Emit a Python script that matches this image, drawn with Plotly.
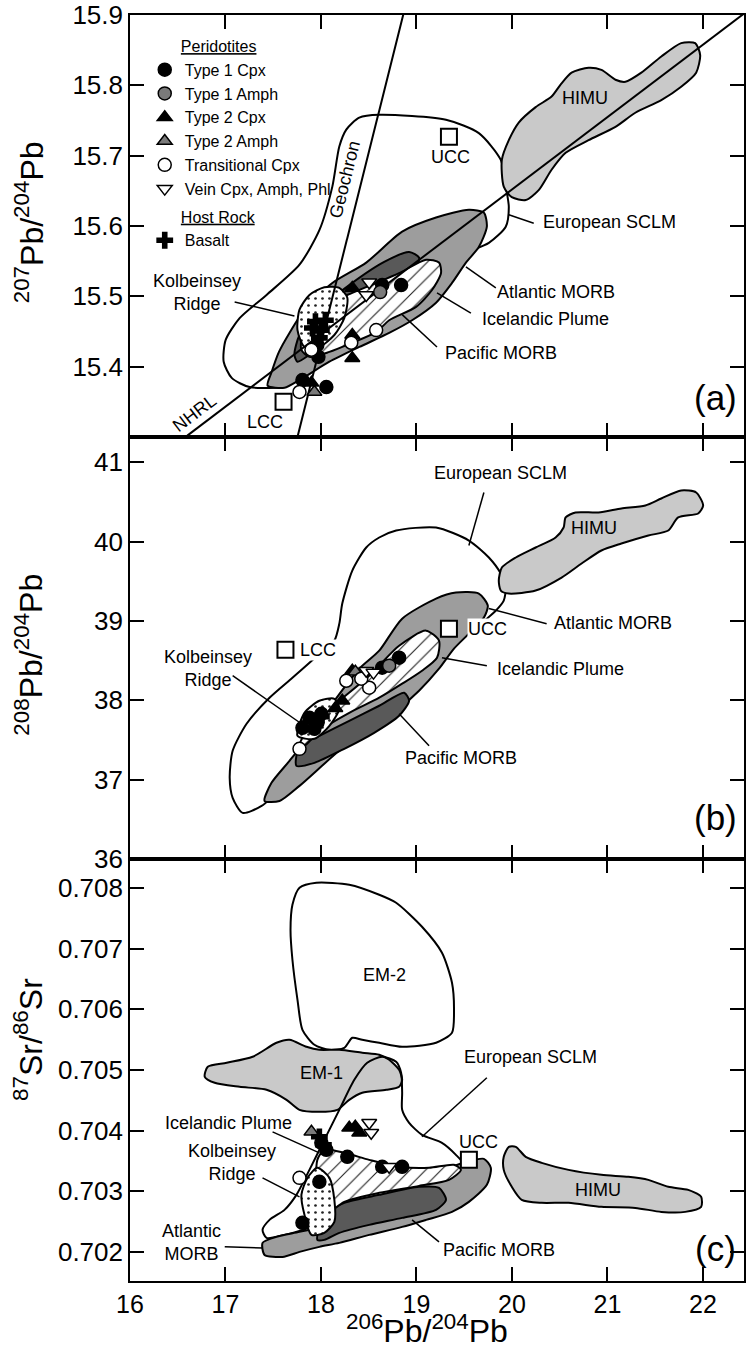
import plotly.graph_objects as go
from plotly.subplots import make_subplots

FONT = "Liberation Sans, Arial, Helvetica, sans-serif"

# ---------------- axes ----------------
X_RANGE = [16, 22.43]
X_TICKS = [16, 17, 18, 19, 20, 21, 22]
Y_RANGE_A = [15.3, 15.9]
Y_TICKS_A = [15.4, 15.5, 15.6, 15.7, 15.8, 15.9]
Y_RANGE_B = [36.0, 41.32]
Y_TICKS_B = [36, 37, 38, 39, 40, 41]
Y_RANGE_C = [0.70152, 0.70848]
Y_TICKS_C = [0.702, 0.703, 0.704, 0.705, 0.706, 0.707, 0.708]

# ---------------- panel (a) 207Pb/204Pb fields ----------------
SCLM_A_X = [17.253, 17.065, 16.981, 17.002, 17.148, 17.430, 17.775, 17.983, 18.119, 18.192, 18.265, 18.401,
            18.610, 19.309, 19.653, 19.883, 19.935, 19.967, 19.935, 19.758, 19.518, 19.132, 18.610, 18.088, 17.670]
SCLM_A_Y = [15.371, 15.384, 15.407, 15.438, 15.469, 15.502, 15.545, 15.594, 15.656, 15.713, 15.737, 15.754,
            15.758, 15.751, 15.732, 15.694, 15.656, 15.627, 15.599, 15.576, 15.562, 15.535, 15.488, 15.424, 15.374]
HIMU_A_X = [19.894, 19.967, 20.071, 20.248, 20.415, 20.509, 20.624, 20.802, 20.937, 21.084, 21.188, 21.355, 21.564,
            21.772, 21.919, 21.971, 21.929, 21.772, 21.564, 21.292, 21.084, 20.802, 20.562, 20.415, 20.280, 20.144,
            19.998, 19.914]
HIMU_A_Y = [15.694, 15.722, 15.747, 15.769, 15.784, 15.801, 15.818, 15.825, 15.822, 15.808, 15.805, 15.818, 15.841,
            15.860, 15.860, 15.843, 15.818, 15.798, 15.779, 15.761, 15.741, 15.722, 15.704, 15.680, 15.651, 15.637,
            15.641, 15.656]
ATL_A_X = [17.441, 17.482, 17.560, 17.670, 17.848, 18.119, 18.474, 18.850, 19.205, 19.549, 19.706, 19.737, 19.653,
           19.518, 19.372, 19.205, 18.954, 18.714, 18.401, 18.088, 17.775, 17.618]
ATL_A_Y = [15.373, 15.392, 15.421, 15.448, 15.485, 15.519, 15.548, 15.592, 15.612, 15.623, 15.619, 15.599, 15.570,
           15.548, 15.519, 15.491, 15.466, 15.448, 15.428, 15.407, 15.381, 15.370]
PAC_A_X = [17.722, 17.775, 17.983, 18.296, 18.662, 18.923, 19.027, 18.975, 18.766, 18.453, 18.140, 17.879, 17.754]
PAC_A_Y = [15.417, 15.445, 15.481, 15.516, 15.549, 15.563, 15.555, 15.535, 15.509, 15.481, 15.445, 15.417, 15.407]
ICE_A_X = [17.795, 17.806, 17.910, 18.088, 18.328, 18.578, 18.818, 19.100, 19.236, 19.257, 19.163, 18.996, 18.714,
           18.578, 18.328, 18.088, 17.879]
ICE_A_Y = [15.424, 15.448, 15.471, 15.491, 15.505, 15.519, 15.533, 15.552, 15.548, 15.533, 15.509, 15.485, 15.466,
           15.449, 15.434, 15.421, 15.414]
KOL_A_X = [17.754, 17.775, 17.879, 18.035, 18.192, 18.276, 18.244, 18.140, 17.983, 17.827]
KOL_A_Y = [15.452, 15.481, 15.502, 15.513, 15.512, 15.498, 15.469, 15.445, 15.428, 15.428]
NHRL_X = [16.60, 22.43]
NHRL_Y = [15.302, 15.902]
GEOCHRON_X = [17.75, 18.87]
GEOCHRON_Y = [15.298, 15.905]

# ---------------- panel (b) 208Pb/204Pb fields ----------------
SCLM_B_X = [17.180, 17.075, 17.044, 17.075, 17.221, 17.461, 17.701, 17.962, 18.140, 18.192, 18.223, 18.328, 18.474,
            18.610, 18.787, 19.205, 19.549, 19.758, 19.883, 19.935, 19.914, 19.831, 19.737, 19.445, 19.027, 18.610,
            18.088, 17.670, 17.378]
SCLM_B_Y = [36.581, 36.770, 37.023, 37.364, 37.705, 38.033, 38.285, 38.563, 38.753, 38.967, 39.220, 39.636, 39.927,
            40.053, 40.141, 40.179, 40.015, 39.801, 39.598, 39.422, 39.258, 39.131, 39.030, 38.753, 38.374, 37.995,
            37.490, 36.985, 36.669]
HIMU_B_X = [19.862, 19.894, 20.040, 20.248, 20.457, 20.541, 20.562, 20.666, 20.906, 21.146, 21.397, 21.564, 21.772,
            21.929, 22.002, 21.950, 21.741, 21.637, 21.428, 21.146, 20.937, 20.729, 20.520, 20.248, 19.967, 19.883]
HIMU_B_Y = [39.510, 39.674, 39.801, 39.927, 40.053, 40.179, 40.306, 40.369, 40.369, 40.419, 40.457, 40.545, 40.646,
            40.621, 40.457, 40.356, 40.306, 40.141, 40.078, 39.977, 39.889, 39.725, 39.548, 39.384, 39.346, 39.384]
ATL_B_X = [17.409, 17.482, 17.670, 17.879, 18.140, 18.401, 18.610, 18.850, 19.205, 19.413, 19.653, 19.747, 19.706,
           19.549, 19.393, 19.236, 19.027, 18.766, 18.505, 18.192, 17.775, 17.566]
ATL_B_Y = [36.732, 36.960, 37.237, 37.553, 37.995, 38.399, 38.626, 39.030, 39.283, 39.359, 39.346, 39.194, 39.043,
           38.841, 38.652, 38.399, 38.121, 37.843, 37.616, 37.364, 36.922, 36.732]
PAC_B_X = [17.743, 17.775, 17.983, 18.296, 18.610, 18.871, 18.923, 18.818, 18.557, 18.244, 17.931]
PAC_B_Y = [37.174, 37.427, 37.553, 37.742, 37.932, 38.096, 37.995, 37.806, 37.591, 37.389, 37.212]
ICE_B_X = [17.775, 17.879, 18.192, 18.505, 18.818, 19.100, 19.236, 19.215, 19.058, 18.850, 18.610, 18.296, 17.983, 17.827]
ICE_B_Y = [37.427, 37.679, 37.995, 38.311, 38.689, 38.879, 38.753, 38.538, 38.374, 38.210, 38.033, 37.843, 37.616, 37.427]
KOL_B_X = [17.754, 17.827, 17.983, 18.140, 18.192, 18.088, 17.931]
KOL_B_Y = [37.553, 37.843, 37.995, 38.020, 37.894, 37.679, 37.515]

# ---------------- panel (c) 87Sr/86Sr fields ----------------
EM2_C_X = [17.701, 17.775, 17.952, 18.296, 18.610, 18.787, 19.058, 19.267, 19.372, 19.393, 19.372, 19.205, 18.850,
           18.610, 18.432, 18.328, 18.244, 18.088, 17.931, 17.806, 17.754, 17.701, 17.681]
EM2_C_Y = [0.707726, 0.708007, 0.708089, 0.708056, 0.707891, 0.707759, 0.707363, 0.706934, 0.706439, 0.705993,
           0.705614, 0.705449, 0.705383, 0.705449, 0.705498, 0.705531, 0.705366, 0.705333, 0.705416, 0.705663,
           0.706158, 0.706818, 0.707314]
EM1_C_X = [16.783, 16.814, 17.013, 17.284, 17.534, 17.670, 17.848, 17.983, 18.192, 18.432, 18.610, 18.714, 18.818,
           18.850, 18.818, 18.683, 18.432, 18.296, 18.171, 17.983, 17.775, 17.639, 17.430, 17.148, 16.887]
EM1_C_Y = [0.704888, 0.705053, 0.705119, 0.705218, 0.705449, 0.705498, 0.705383, 0.705333, 0.705333, 0.705284,
           0.705251, 0.705168, 0.705003, 0.704838, 0.704723, 0.704673, 0.704624, 0.704508, 0.704343, 0.704310,
           0.704343, 0.704508, 0.704673, 0.704723, 0.704789]
SCLM_C_X = [18.641, 18.787, 18.839, 18.850, 18.850, 18.923, 19.058, 19.267, 19.413, 19.497, 19.445, 19.236, 18.818,
            18.296, 17.879, 17.618, 17.430, 17.388, 17.461, 17.618, 17.743, 17.879, 18.035, 18.192, 18.349, 18.484]
SCLM_C_Y = [0.705218, 0.705135, 0.704954, 0.704624, 0.704343, 0.704129, 0.703931, 0.703799, 0.703601, 0.703436,
            0.703271, 0.703106, 0.702858, 0.702611, 0.702396, 0.702281, 0.702231, 0.702363, 0.702528, 0.702693,
            0.702941, 0.703353, 0.703848, 0.704343, 0.704838, 0.705119]
ATL_C_X = [17.409, 17.388, 17.534, 17.775, 18.088, 18.505, 18.923, 19.236, 19.497, 19.706, 19.779, 19.737, 19.549,
           19.372, 19.100, 18.850, 18.505, 18.192, 17.983, 17.775, 17.597]
ATL_C_Y = [0.701950, 0.702149, 0.702248, 0.702330, 0.702446, 0.702776, 0.703106, 0.703320, 0.703469, 0.703535,
           0.703386, 0.703106, 0.702825, 0.702660, 0.702528, 0.702413, 0.702281, 0.702149, 0.702083, 0.702000, 0.701917]
PAC_C_X = [17.962, 18.035, 18.244, 18.610, 19.027, 19.236, 19.309, 19.205, 18.850, 18.505, 18.192, 18.035]
PAC_C_Y = [0.702198, 0.702611, 0.702809, 0.702941, 0.703073, 0.703056, 0.702858, 0.702693, 0.702561, 0.702446,
           0.702314, 0.702198]
ICE_C_X = [17.962, 18.035, 18.244, 18.505, 18.818, 19.132, 19.392, 19.466, 19.340, 19.027, 18.610, 18.244, 18.035, 17.962]
ICE_C_Y = [0.703518, 0.703683, 0.703634, 0.703518, 0.703403, 0.703386, 0.703436, 0.703353, 0.703188, 0.703089,
           0.702974, 0.702825, 0.702611, 0.702858]
KOL_C_X = [17.962, 18.088, 18.140, 18.140, 18.035, 17.900, 17.827, 17.795, 17.858]
KOL_C_Y = [0.703386, 0.703221, 0.702858, 0.702495, 0.702314, 0.702281, 0.702611, 0.702941, 0.703221]
HIMU_C_X = [19.914, 19.967, 20.040, 20.144, 20.311, 20.593, 20.937, 21.219, 21.428, 21.637, 21.846, 21.981, 21.981,
            21.814, 21.564, 21.292, 20.937, 20.593, 20.311, 20.102, 19.998, 19.914]
HIMU_C_Y = [0.703568, 0.703733, 0.703733, 0.703568, 0.703469, 0.703353, 0.703271, 0.703238, 0.703188, 0.703073,
            0.703023, 0.702908, 0.702743, 0.702660, 0.702660, 0.702726, 0.702743, 0.702809, 0.702809, 0.702858,
            0.703073, 0.703353]

# ---------------- samples ----------------
T1CPX_A_X = [17.973, 17.806, 18.056, 18.641, 18.839, 17.962]
T1CPX_A_Y = [15.414, 15.381, 15.371, 15.516, 15.516, 15.431]
T1AMPH_A_X = [18.620]
T1AMPH_A_Y = [15.506]
T2CPX_A_X = [18.328, 18.328, 18.328, 17.900]
T2CPX_A_Y = [15.412, 15.445, 15.512, 15.377]
T2AMPH_A_X = [17.931]
T2AMPH_A_Y = [15.364]
TRANS_A_X = [17.775, 18.317, 18.578, 17.900]
TRANS_A_Y = [15.364, 15.434, 15.452, 15.424]
VEIN_A_X = [18.505, 18.474]
VEIN_A_Y = [15.520, 15.502]
BAS_A_X = [17.942, 18.004, 18.046, 17.983, 17.910]
BAS_A_Y = [15.464, 15.452, 15.466, 15.441, 15.455]

T1CPX_B_X = [18.818, 18.641, 17.806, 17.879, 18.004, 17.931, 17.962]
T1CPX_B_Y = [38.538, 38.412, 37.654, 37.780, 37.831, 37.641, 37.717]
T1AMPH_B_X = [18.714]
T1AMPH_B_Y = [38.437]
T2CPX_B_X = [18.328, 18.223, 18.150]
T2CPX_B_Y = [38.374, 37.995, 37.900]
T2AMPH_B_X = [18.360]
T2AMPH_B_Y = [38.360]
TRANS_B_X = [17.775, 18.265, 18.505, 18.422]
TRANS_B_Y = [37.389, 38.247, 38.159, 38.273]
VEIN_B_X = [18.474, 18.550]
VEIN_B_Y = [38.374, 38.350]
BAS_B_X = [17.952, 18.004]
BAS_B_Y = [37.742, 37.793]

T1CPX_C_X = [18.276, 18.641, 18.850, 17.983, 17.806, 18.056, 18.004]
T1CPX_C_Y = [0.703568, 0.703403, 0.703403, 0.703155, 0.702479, 0.703683, 0.703799]
T1AMPH_C_X = []
T1AMPH_C_Y = []
T2CPX_C_X = [18.296, 18.359, 18.401]
T2CPX_C_Y = [0.704046, 0.704063, 0.703964]
T2AMPH_C_X = [17.900]
T2AMPH_C_Y = [0.703980]
TRANS_C_X = [17.775]
TRANS_C_Y = [0.703221]
VEIN_C_X = [18.505, 18.526, 18.714]
VEIN_C_Y = [0.704129, 0.703964, 0.703403]
BAS_C_X = [17.983, 18.025]
BAS_C_Y = [0.703898, 0.703766]

# crust reference boxes: (name, x, y)
CRUST_A = [("LCC", 17.608, 15.350), ("UCC", 19.340, 15.727)]
CRUST_B = [("LCC", 17.628, 38.639), ("UCC", 19.340, 38.904)]
CRUST_C = [("UCC", 19.549, 0.703518)]

# ---------------- labels & leader lines ----------------
LABELS_A = [("Kolbeinsey<br>Ridge", 16.699, 15.506), ("European SCLM", 21.021, 15.606),
            ("Atlantic MORB", 20.457, 15.506), ("Icelandic Plume", 20.353, 15.468),
            ("Pacific MORB", 19.883, 15.419), ("UCC", 19.361, 15.698), ("LCC", 17.409, 15.321),
            ("HIMU", 20.770, 15.782)]
LEADERS_A = [(17.096, 15.492, 17.722, 15.472), (19.967, 15.616, 20.228, 15.604),
             (19.518, 15.542, 19.831, 15.512), (19.215, 15.505, 19.570, 15.476),
             (18.850, 15.474, 19.215, 15.428)]
ROT_LABELS_A = [("NHRL", 16.678, 15.334, -37), ("Geochron", 18.244, 15.666, -76)]

LABELS_B = [("European SCLM", 19.883, 40.861), ("Kolbeinsey<br>Ridge", 16.814, 38.399),
            ("Atlantic MORB", 21.063, 38.980), ("Icelandic Plume", 20.509, 38.399),
            ("Pacific MORB", 19.466, 37.275), ("HIMU", 20.854, 40.167)]
LEFT_LABELS_B = [("LCC", 17.775, 38.639), ("UCC", 19.528, 38.904)]
LEADERS_B = [(19.706, 40.621, 19.549, 39.952), (17.075, 38.311, 17.795, 37.705),
             (19.758, 39.157, 20.363, 38.967), (19.267, 38.538, 19.737, 38.437),
             (18.818, 37.831, 19.132, 37.427)]

LABELS_C = [("European SCLM", 20.196, 0.705218), ("Icelandic Plume", 17.033, 0.704129),
            ("Kolbeinsey<br>Ridge", 17.065, 0.703469), ("Atlantic<br>MORB", 16.647, 0.702149),
            ("Pacific MORB", 19.862, 0.702033), ("UCC", 19.653, 0.703815), ("HIMU", 20.906, 0.703023),
            ("EM-2", 18.662, 0.706571), ("EM-1", 18.004, 0.704954)]
LEADERS_C = [(19.737, 0.704871, 19.058, 0.703898), (17.493, 0.703980, 17.983, 0.703634),
             (17.388, 0.703221, 17.775, 0.702908), (16.992, 0.702083, 17.388, 0.702066),
             (18.954, 0.702528, 19.236, 0.702165)]

LIGHT = "#c9c9c9"
MEDIUM = "#9d9d9d"
DARK = "#595959"

fig = make_subplots(rows=3, cols=1, shared_xaxes=True, vertical_spacing=0)


def region(row, xs, ys, fill=None, pattern=None):
    xs = list(xs) + [xs[0]]
    ys = list(ys) + [ys[0]]
    kw = dict(x=xs, y=ys, mode="lines", hoverinfo="skip", showlegend=False,
              line=dict(color="black", width=2, shape="spline", smoothing=0.7))
    if fill is None:
        tr = go.Scatter(**kw)
    else:
        tr = go.Scatter(fill="toself", fillcolor=fill, **kw)
        if pattern is not None:
            tr.update(fillpattern=pattern)
    fig.add_trace(tr, row=row, col=1)


HATCH = dict(shape="/", bgcolor="white", fgcolor="#222222", size=11, solidity=0.1, fillmode="replace")
DOTS = dict(shape=".", bgcolor="white", fgcolor="#222222", size=7, solidity=0.12, fillmode="replace")

# panel a
region(1, SCLM_A_X, SCLM_A_Y)
region(1, HIMU_A_X, HIMU_A_Y, LIGHT)
region(1, ATL_A_X, ATL_A_Y, MEDIUM)
region(1, PAC_A_X, PAC_A_Y, DARK)
region(1, ICE_A_X, ICE_A_Y, "white", HATCH)
region(1, KOL_A_X, KOL_A_Y, "white", DOTS)
for lx, ly in [(NHRL_X, NHRL_Y), (GEOCHRON_X, GEOCHRON_Y)]:
    fig.add_trace(go.Scatter(x=lx, y=ly, mode="lines", line=dict(color="black", width=2),
                             hoverinfo="skip", showlegend=False), row=1, col=1)
# panel b
region(2, SCLM_B_X, SCLM_B_Y)
region(2, HIMU_B_X, HIMU_B_Y, LIGHT)
region(2, ATL_B_X, ATL_B_Y, MEDIUM)
region(2, PAC_B_X, PAC_B_Y, DARK)
region(2, ICE_B_X, ICE_B_Y, "white", HATCH)
region(2, KOL_B_X, KOL_B_Y, "white", DOTS)
# panel c
region(3, EM2_C_X, EM2_C_Y)
region(3, EM1_C_X, EM1_C_Y, LIGHT)
region(3, SCLM_C_X, SCLM_C_Y)
region(3, ATL_C_X, ATL_C_Y, MEDIUM)
region(3, PAC_C_X, PAC_C_Y, DARK)
region(3, ICE_C_X, ICE_C_Y, "white", HATCH)
region(3, KOL_C_X, KOL_C_Y, "white", DOTS)
region(3, HIMU_C_X, HIMU_C_Y, LIGHT)

# crust boxes
for row, crust in [(1, CRUST_A), (2, CRUST_B), (3, CRUST_C)]:
    fig.add_trace(go.Scatter(x=[c[1] for c in crust], y=[c[2] for c in crust], mode="markers",
                             marker=dict(symbol="square", size=16, color="white",
                                         line=dict(color="black", width=2)),
                             hoverinfo="skip", showlegend=False), row=row, col=1)

# samples
SERIES = [
    ("Type 1 Cpx", "circle", "black", "peri",
     [(T1CPX_A_X, T1CPX_A_Y), (T1CPX_B_X, T1CPX_B_Y), (T1CPX_C_X, T1CPX_C_Y)]),
    ("Type 1 Amph", "circle", "#7a7a7a", "peri",
     [(T1AMPH_A_X, T1AMPH_A_Y), (T1AMPH_B_X, T1AMPH_B_Y), (T1AMPH_C_X, T1AMPH_C_Y)]),
    ("Type 2 Cpx", "triangle-up", "black", "peri",
     [(T2CPX_A_X, T2CPX_A_Y), (T2CPX_B_X, T2CPX_B_Y), (T2CPX_C_X, T2CPX_C_Y)]),
    ("Type 2 Amph", "triangle-up", "#7a7a7a", "peri",
     [(T2AMPH_A_X, T2AMPH_A_Y), (T2AMPH_B_X, T2AMPH_B_Y), (T2AMPH_C_X, T2AMPH_C_Y)]),
    ("Transitional Cpx", "circle", "white", "peri",
     [(TRANS_A_X, TRANS_A_Y), (TRANS_B_X, TRANS_B_Y), (TRANS_C_X, TRANS_C_Y)]),
    ("Vein Cpx, Amph, Phl", "triangle-down", "white", "peri",
     [(VEIN_A_X, VEIN_A_Y), (VEIN_B_X, VEIN_B_Y), (VEIN_C_X, VEIN_C_Y)]),
    ("Basalt", "cross", "black", "host",
     [(BAS_A_X, BAS_A_Y), (BAS_B_X, BAS_B_Y), (BAS_C_X, BAS_C_Y)]),
]
LEG_FONT = dict(size=16, family=FONT, color="black")
GROUP_TITLES = {"peri": "\u00a0\u00a0\u00a0\u00a0\u00a0\u00a0\u00a0<u>Peridotites</u>",
                "host": "\u00a0\u00a0\u00a0\u00a0\u00a0\u00a0\u00a0<u>Host Rock</u>"}
seen_groups = set()
for name, sym, col, grp, panels in SERIES:
    for i, (xs, ys) in enumerate(panels):
        lw = 0 if sym == "cross" else 1.5
        tr = go.Scatter(x=xs, y=ys, mode="markers", name=name, legendgroup=grp,
                        showlegend=(i == 0), hoverinfo="skip",
                        marker=dict(symbol=sym, size=13 if sym != "cross" else 14, color=col,
                                    line=dict(color="black", width=lw)))
        if i == 0 and grp not in seen_groups:
            tr.update(legendgrouptitle=dict(text=GROUP_TITLES[grp], font=LEG_FONT))
            seen_groups.add(grp)
        fig.add_trace(tr, row=i + 1, col=1)

LABEL_FONT = dict(size=18, family=FONT, color="black")
for row, labels in [(1, LABELS_A), (2, LABELS_B), (3, LABELS_C)]:
    for text, x, y in labels:
        fig.add_annotation(x=x, y=y, text=text, showarrow=False, font=LABEL_FONT,
                           xanchor="center", yanchor="middle", row=row, col=1)
for text, x, y in LEFT_LABELS_B:
    fig.add_annotation(x=x, y=y, text=text, showarrow=False, font=LABEL_FONT, bgcolor="white",
                       xanchor="left", yanchor="middle", borderpad=0, row=2, col=1)
for text, x, y, ang in ROT_LABELS_A:
    fig.add_annotation(x=x, y=y, text=text, showarrow=False, font=LABEL_FONT, textangle=ang,
                       xanchor="center", yanchor="middle", row=1, col=1)
for row, leaders in [(1, LEADERS_A), (2, LEADERS_B), (3, LEADERS_C)]:
    for x0, y0, x1, y1 in leaders:
        fig.add_shape(type="line", x0=x0, y0=y0, x1=x1, y1=y1, line=dict(color="black", width=1.5),
                      row=row, col=1)

# panel letters
for text, py in [("(a)", 0.6975), ("(b)", 0.3665), ("(c)", 0.026)]:
    fig.add_annotation(x=0.954, y=py, xref="paper", yref="paper", text=text, showarrow=False,
                       font=dict(size=35, family=FONT, color="black"), xanchor="center", yanchor="middle")

# axis titles
TITLE_FONT = dict(size=32, family=FONT, color="black")
for text, py in [("<sup>207</sup>Pb/<sup>204</sup>Pb", 0.836), ("<sup>208</sup>Pb/<sup>204</sup>Pb", 0.4945),
                 ("<sup>87</sup>Sr/<sup>86</sup>Sr", 0.191)]:
    fig.add_annotation(x=-0.165, y=py, xref="paper", yref="paper", text=text, showarrow=False,
                       textangle=-90, font=TITLE_FONT, xanchor="center", yanchor="middle")
fig.add_annotation(x=0.484, y=-0.038, xref="paper", yref="paper", text="<sup>206</sup>Pb/<sup>204</sup>Pb",
                   showarrow=False, font=TITLE_FONT, xanchor="center", yanchor="middle")

AX = dict(ticks="inside", ticklen=14, tickwidth=1.5, tickcolor="black", showline=True, linecolor="black",
          linewidth=1.6, mirror="ticks", showgrid=False, zeroline=False,
          tickfont=dict(size=26, family=FONT, color="black"))
for r in (1, 2, 3):
    fig.update_xaxes(row=r, col=1, range=X_RANGE, tickvals=X_TICKS, **AX)
fig.update_xaxes(row=3, col=1, tickfont=dict(size=25, family=FONT, color="black"))
fig.update_yaxes(row=1, col=1, range=Y_RANGE_A, tickvals=Y_TICKS_A, ticktext=[f"{v:.1f}" for v in Y_TICKS_A], **AX)
fig.update_yaxes(row=2, col=1, range=Y_RANGE_B, tickvals=Y_TICKS_B, ticktext=[str(v) for v in Y_TICKS_B], **AX)
fig.update_yaxes(row=3, col=1, range=Y_RANGE_C, tickvals=Y_TICKS_C, ticktext=[f"{v:.3f}" for v in Y_TICKS_C], **AX)

fig.update_layout(
    width=746, height=1351, margin=dict(l=130, r=0, t=15, b=70),
    paper_bgcolor="white", plot_bgcolor="white", font=dict(family=FONT, color="black"),
    legend=dict(x=0.024, y=0.989, xanchor="left", yanchor="top", bgcolor="rgba(0,0,0,0)",
                font=LEG_FONT, tracegroupgap=4, itemwidth=30, traceorder="grouped"),
)

fig.write_html("out.html")
